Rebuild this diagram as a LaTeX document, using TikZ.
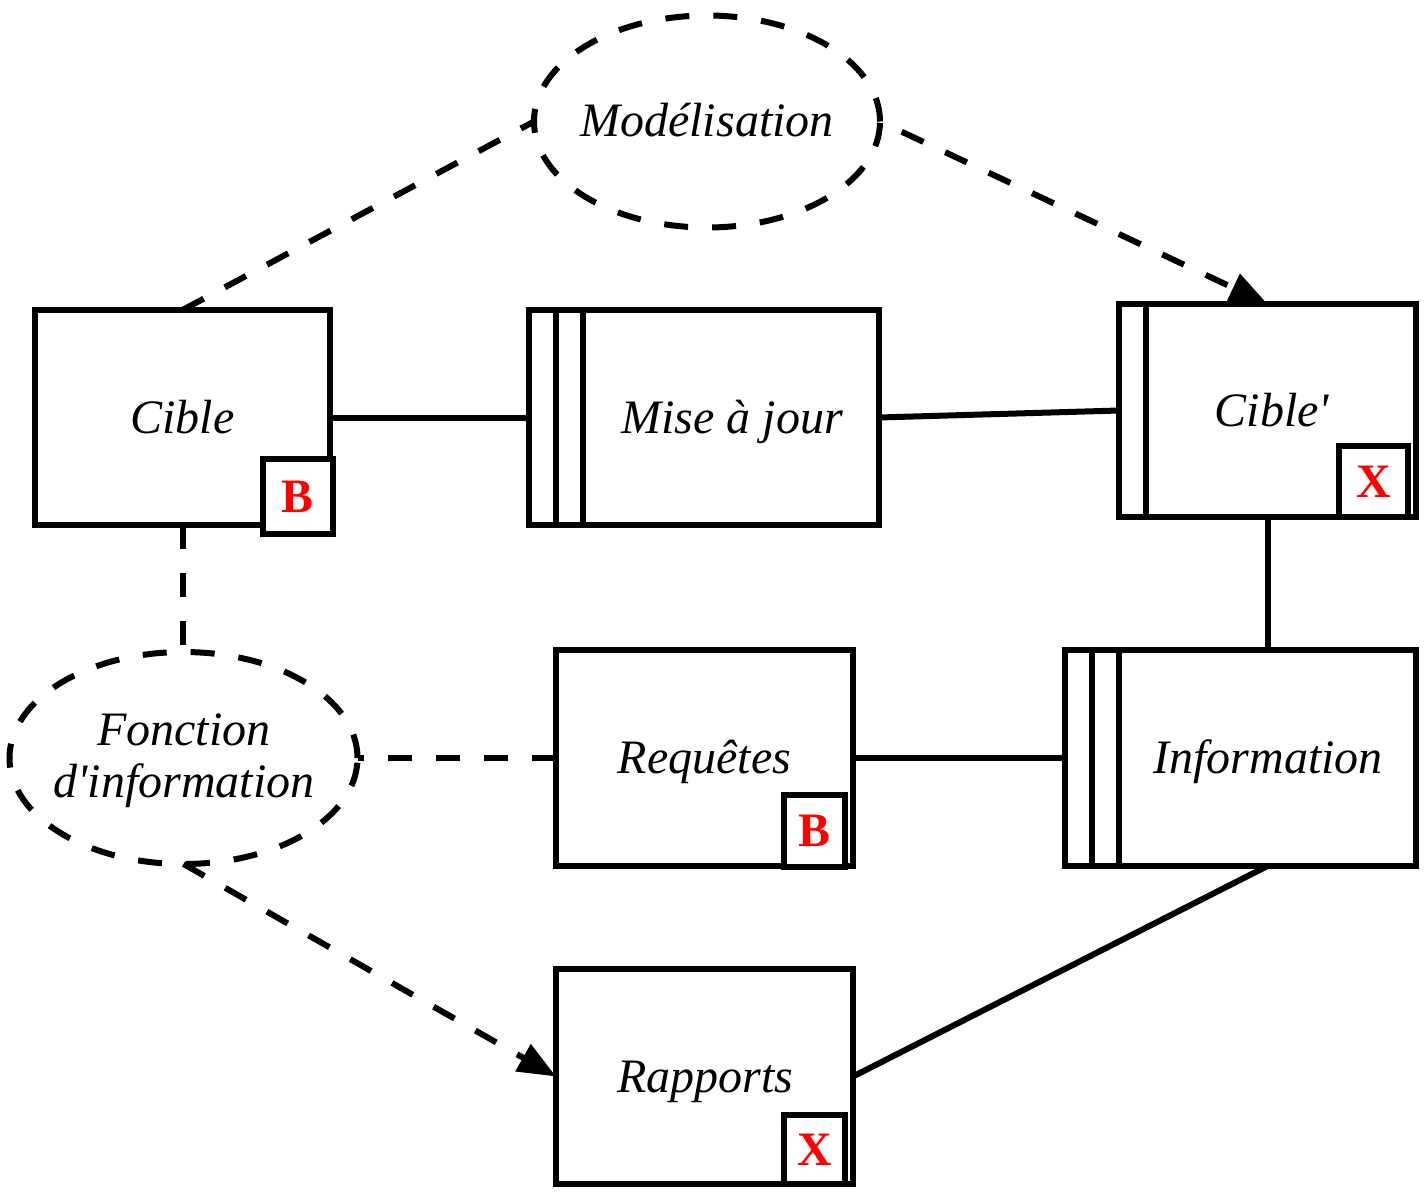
\documentclass[tikz,border=0pt]{standalone}
\usepackage{fontspec}
\setmainfont{Liberation Serif}
\usetikzlibrary{shapes.geometric,arrows.meta,calc}
\begin{document}
\begin{tikzpicture}[x=1pt,y=-1pt,
  lw/.style={line width=6pt},
  box/.style={lw,draw,inner sep=0pt,outer sep=0pt},
  stripe/.style={lw},
  badge/.style={lw,draw,fill=white,inner sep=0pt,outer sep=0pt,text=red,
    font=\fontsize{48pt}{48pt}\selectfont\bfseries},
  ell/.style={lw,draw,ellipse,inner sep=0pt,outer sep=0pt,dash pattern=on 24pt off 24pt},
  lbl/.style={anchor=base,inner sep=0pt,font=\fontsize{48pt}{56pt}\selectfont\itshape},
  solidlink/.style={lw},
  dashlink/.style={lw,dash pattern=on 24pt off 24pt},
  tip/.style={-{Triangle[length=38pt,width=30pt]}}]
\useasboundingbox (0,0) rectangle (1426,1192);

% boxes
\node[box,minimum width=295pt,minimum height=215pt] (cible)  at (182.5,417.5) {};
\node[box,minimum width=350pt,minimum height=215pt] (maj)    at (704,417.5) {};
\node[box,minimum width=297pt,minimum height=213pt] (ciblep) at (1267.5,410.5) {};
\node[box,minimum width=297pt,minimum height=216pt] (req)    at (704.5,758) {};
\node[box,minimum width=351pt,minimum height=216pt] (info)   at (1240.5,758) {};
\node[box,minimum width=297pt,minimum height=215pt] (rap)    at (704.5,1076.5) {};

% side stripes
\draw[stripe] ([xshift=27pt]maj.north west) -- ([xshift=27pt]maj.south west);
\draw[stripe] ([xshift=54pt]maj.north west) -- ([xshift=54pt]maj.south west);
\draw[stripe] ([xshift=27pt]ciblep.north west) -- ([xshift=27pt]ciblep.south west);
\draw[stripe] ([xshift=27pt]info.north west) -- ([xshift=27pt]info.south west);
\draw[stripe] ([xshift=54pt]info.north west) -- ([xshift=54pt]info.south west);

% ellipses
\node[ell,minimum width=346pt,minimum height=212pt] (model) at (707,121.5) {};
\node[ell,minimum width=348pt,minimum height=212pt] (fonction) at (183.5,758) {};

% labels
\node[lbl] (tcible)  at (182.5,433) {Cible};
\node[lbl] (tmaj)    at (732,433) {Mise à jour};
\node[lbl] (tciblep) at (1272,426.5) {Cible\textquotesingle};
\node[lbl] (treq)    at (704.5,773) {Requêtes};
\node[lbl] (tinfo)   at (1268,773) {Information};
\node[lbl] (trap)    at (705,1092) {Rapports};
\node[lbl] (tmodel)  at (707,136) {Modélisation};
\node[lbl] (tf1)     at (184,745) {Fonction};
\node[lbl] (tf2)     at (184,797) {d\textquotesingle information};

% solid links
\draw[solidlink] (cible.east) -- (maj.west);
\draw[solidlink] (maj.east) -- (ciblep.west);
\draw[solidlink] (ciblep.south) -- (ciblep.south |- info.north);
\draw[solidlink] (req.east) -- (info.west);
\draw[solidlink] (ciblep.south |- info.south) -- (rap.east);

% dashed links
\draw[dashlink] (cible.north) -- (model.west);
\draw[dashlink,dash phase=24pt,tip] (model.east) -- (ciblep.north);
\draw[dashlink] (cible.south) -- (cible.south |- fonction.north);
\draw[dashlink] (req.west) -- (fonction.east);
\draw[dashlink,tip] (fonction.south) -- (rap.west);

% badges
\node[badge,minimum width=70pt,minimum height=75pt]   (bcible)  at (298,496.5) {B};
\node[badge,minimum width=69pt,minimum height=71pt]   (bciblep) at (1373.5,481.5) {X};
\node[badge,minimum width=61pt,minimum height=72pt]   (breq)    at (814.5,831) {B};
\node[badge,minimum width=61pt,minimum height=69pt]   (brap)    at (814.5,1149.5) {X};
\end{tikzpicture}
\end{document}
